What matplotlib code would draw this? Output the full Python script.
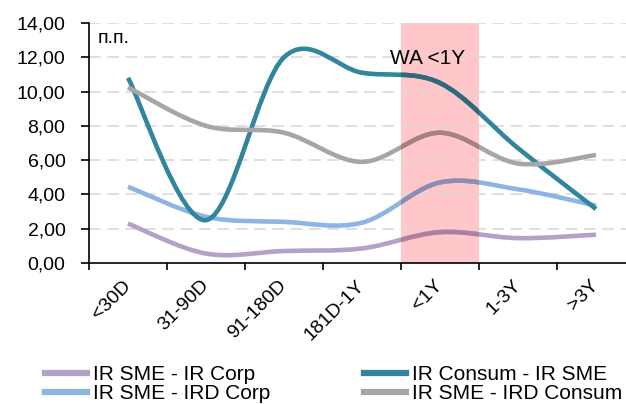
import matplotlib
matplotlib.use("Agg")
import matplotlib.pyplot as plt
from matplotlib.path import Path
from matplotlib.patches import PathPatch, Rectangle
from matplotlib.lines import Line2D
from matplotlib.transforms import ScaledTranslation
import numpy as np

plt.rcParams['font.family'] = ['Liberation Sans', 'DejaVu Sans']

categories = ["<30D", "31-90D", "91-180D", "181D-1Y", "<1Y", "1-3Y", ">3Y"]
series_names = ["IR SME - IR Corp", "IR SME - IRD Corp", "IR Consum - IR SME", "IR SME - IRD Consum"]
ir_sme_ir_corp = [2.30, 0.55, 0.70, 0.85, 1.80, 1.45, 1.65]
ir_sme_ird_corp = [4.45, 2.70, 2.40, 2.35, 4.70, 4.30, 3.35]
ir_consum_ir_sme = [10.80, 2.50, 12.00, 11.10, 10.50, 6.70, 3.15]
ir_sme_ird_consum = [10.25, 8.00, 7.60, 5.90, 7.60, 5.80, 6.30]
colors = ["#B3A2C7", "#8EB4E3", "#31859C", "#A6A6A6"]
highlight_index = 4
highlight_label = "WA <1Y"
y_ticks = [0, 2, 4, 6, 8, 10, 12, 14]
pink = (1.0, 0.78, 0.79)

W, H = 626, 404
fig = plt.figure(figsize=(W / 100, H / 100), dpi=100)
left_px, right_px, bottom_px, top_px = 89, 635, 263, 23
ax = fig.add_axes([left_px / W, (H - bottom_px) / H, (right_px - left_px) / W, (bottom_px - top_px) / H])

x = np.arange(len(categories), dtype=float)


def smooth_path(xs, ys):
    pts = np.column_stack([xs, ys])
    n = len(pts)
    verts = [pts[0]]
    codes = [Path.MOVETO]
    for i in range(n - 1):
        p_prev = pts[i - 1] if i > 0 else pts[i]
        p0 = pts[i]
        p1 = pts[i + 1]
        p_next = pts[i + 2] if i + 2 < n else pts[i + 1]
        c1 = p0 + (p1 - p_prev) / 6.0
        c2 = p1 - (p_next - p0) / 6.0
        verts += [c1, c2, p1]
        codes += [Path.CURVE4] * 3
    return Path(np.array(verts), codes)


data = [ir_sme_ir_corp, ir_sme_ird_corp, ir_consum_ir_sme, ir_sme_ird_consum]

# highlight band
rect = Rectangle((highlight_index - 0.5, 0), 1, 14, facecolor=pink, edgecolor='none', zorder=0.3)
ax.add_patch(rect)

draw_order = [0, 1, 3, 2]
for k in draw_order:
    p = smooth_path(x, data[k])
    patch = PathPatch(p, facecolor='none', edgecolor=colors[k], lw=3.3, capstyle='butt', zorder=2 + k * 0.01)
    ax.add_patch(patch)
    # multiply-blend inside highlight band
    c = np.array(matplotlib.colors.to_rgb(colors[k])) * np.array(pink)
    patch2 = PathPatch(p, facecolor='none', edgecolor=tuple(c), lw=3.3, capstyle='butt', zorder=2.5 + k * 0.01)
    ax.add_patch(patch2)
    patch2.set_clip_path(rect)

ax.set_xlim(-0.5, len(categories) - 0.5)
ax.set_ylim(0, 14)
ax.set_yticks(y_ticks)
ax.set_yticklabels([f"{v:.2f}".replace('.', ',') for v in y_ticks], fontsize=14)
ax.set_xticks(x)
ax.set_xticklabels(categories, rotation=45, ha='right', va='top', rotation_mode='anchor', fontsize=14)
ax.set_xticks(np.arange(-0.5, len(categories), 1.0), minor=True)
ax.tick_params(axis='x', which='major', length=0, pad=10)
ax.tick_params(axis='x', which='minor', length=5, width=1.2, direction='out')
ax.tick_params(axis='y', length=6, width=1.2, direction='out', pad=11)
offset = ScaledTranslation(-6 / 100, 0, fig.dpi_scale_trans)
for lbl in ax.get_xticklabels():
    lbl.set_transform(lbl.get_transform() + offset)

for yv in y_ticks[1:]:
    ax.axhline(yv, color='#D9D9D9', lw=1.2, dashes=(7, 4), zorder=0.5)

for s in ['top', 'right']:
    ax.spines[s].set_visible(False)
for s in ['left', 'bottom']:
    ax.spines[s].set_linewidth(1.2)
    ax.spines[s].set_color('black')

ax.text(0.015, 0.935, "п.п.", transform=ax.transAxes, fontsize=14, ha='left', va='center')
ax.text(highlight_index - 0.16, 11.9, highlight_label, fontsize=15, ha='center', va='center', zorder=3)

handles = [Line2D([], [], color=colors[k], lw=4.5) for k in range(4)]
fig.legend(handles, series_names, loc='upper left', bbox_to_anchor=(45 / W, 1 - 365 / H),
           ncol=2, frameon=False, fontsize=15, handlelength=2.0, handletextpad=0.3,
           labelspacing=0.0, columnspacing=4.5, borderpad=0, borderaxespad=0)

fig.savefig("out.png", dpi=100)
